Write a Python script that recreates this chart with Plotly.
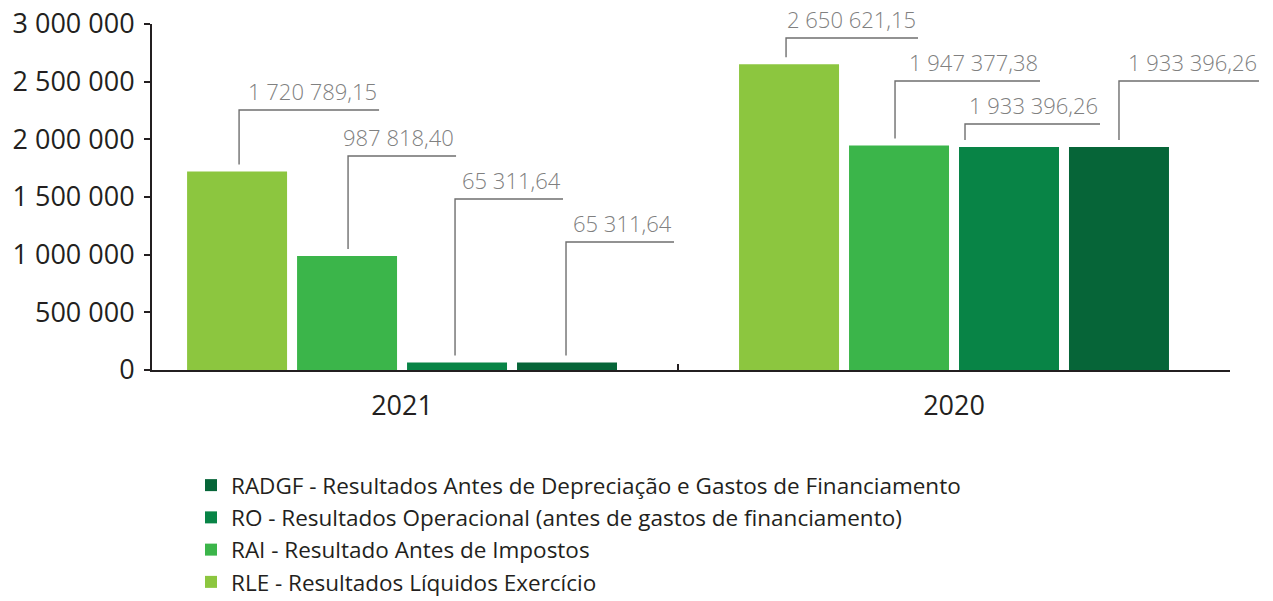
import plotly.graph_objects as go

# ---- data ---------------------------------------------------------------
years = ["2021", "2020"]
series_names = [
    "RLE - Resultados Líquidos Exercício",
    "RAI - Resultado Antes de Impostos",
    "RO - Resultados Operacional (antes de gastos de financiamento)",
    "RADGF - Resultados Antes de Depreciação e Gastos de Financiamento",
]
rle = [1720789.15, 2650621.15]
rai = [987818.40, 1947377.38]
ro = [65311.64, 1933396.26]
radgf = [65311.64, 1933396.26]
y_ticks = [0, 500000, 1000000, 1500000, 2000000, 2500000, 3000000]

series_values = [rle, rai, ro, radgf]
colors = ["#8cc63f", "#3bb54a", "#088446", "#066538"]

# ---- geometry -----------------------------------------------------------
W, H = 1273, 601
MARGIN = dict(l=152, r=43, t=24, b=231, pad=0)
PLOT_W = W - MARGIN["l"] - MARGIN["r"]
PLOT_H = H - MARGIN["t"] - MARGIN["b"]
X_RANGE = [-0.453, 1.5]
Y_RANGE = [0, 3000000]
BARGAP = 0.203
BARGROUPGAP = 0.0909

# leader styling per (year, series): label line height (px from page top),
# horizontal run (px) and shift of the elbow from the bar centre (px)
leader_layout = {
    (0, 0): (110, 140, 2),
    (0, 1): (156, 108, 1),
    (0, 2): (199, 108, -2),
    (0, 3): (242, 108, -1),
    (1, 0): (38, 132, -3),
    (1, 1): (81, 145, -4),
    (1, 2): (124, 135, -44),
    (1, 3): (81, 140, 0),
}
LEADER_GAP_PX = 7
LINE_COLOR = "#6f6f6f"
DARK = "#231f20"
FONT = "Open Sans"


def fmt_pt(v):
    """Portuguese number format: space thousands, comma decimals."""
    return f"{v:,.2f}".replace(",", " ").replace(".", ",")


def x_to_paper(x):
    return (x - X_RANGE[0]) / (X_RANGE[1] - X_RANGE[0])


def y_to_paper(y):
    return (y - Y_RANGE[0]) / (Y_RANGE[1] - Y_RANGE[0])


def px_x(px):
    return px / PLOT_W


def px_y_from_top(py):
    return 1 - (py - MARGIN["t"]) / PLOT_H


fig = go.Figure()
for name, vals, col in zip(series_names, series_values, colors):
    fig.add_trace(go.Bar(
        x=years, y=vals, name=name,
        marker=dict(color=col, line=dict(width=0)),
        hoverinfo="skip",
    ))

# elbow leaders with value labels
n = len(series_values)
slot = (1 - BARGAP) / n
shapes, annotations = [], []
for j, _ in enumerate(years):
    for i, vals in enumerate(series_values):
        level_px, run_px, shift_px = leader_layout[(j, i)]
        centre = j - (1 - BARGAP) / 2 + slot * (i + 0.5)
        xp = x_to_paper(centre) + px_x(shift_px)
        xp_end = xp + px_x(run_px)
        yp_bottom = y_to_paper(vals[j]) + LEADER_GAP_PX / PLOT_H
        yp_level = px_y_from_top(level_px)
        path = f"M {xp},{yp_bottom} L {xp},{yp_level} L {xp_end},{yp_level}"
        shapes.append(dict(type="path", path=path, xref="paper", yref="paper",
                           line=dict(color=LINE_COLOR, width=1.4)))
        annotations.append(dict(
            x=xp_end, y=yp_level, xref="paper", yref="paper",
            text=fmt_pt(vals[j]), showarrow=False,
            xanchor="right", yanchor="bottom", yshift=2,
            font=dict(family=FONT, size=22, color="#808080", weight=300),
        ))

fig.update_layout(
    template="none",
    width=W, height=H,
    margin=dict(MARGIN, autoexpand=False),
    paper_bgcolor="white", plot_bgcolor="white",
    separators=", ",
    barmode="group", bargap=BARGAP, bargroupgap=BARGROUPGAP,
    font=dict(family=FONT, color=DARK),
    shapes=shapes, annotations=annotations,
    showlegend=True,
    legend=dict(
        traceorder="reversed",
        xref="container", yref="container",
        x=191 / W, y=1 - 464 / H, xanchor="left", yanchor="top",
        font=dict(family=FONT, size=22.5, color=DARK),
        bgcolor="rgba(0,0,0,0)", borderwidth=0,
    ),
    xaxis=dict(
        type="category", range=X_RANGE, automargin=False,
        showline=True, linecolor=DARK, linewidth=2,
        ticks="inside", tickson="boundaries", ticklen=6, tickwidth=2,
        tickcolor=DARK, showgrid=False, zeroline=False,
        tickfont=dict(family=FONT, size=27, color=DARK, weight=500),
        ticklabelstandoff=11,
    ),
    yaxis=dict(
        range=Y_RANGE, tickvals=y_ticks, tickformat=",d", automargin=False,
        showline=True, linecolor=DARK, linewidth=2,
        ticks="outside", ticklen=6, tickwidth=2, tickcolor=DARK,
        showgrid=False, zeroline=False,
        tickfont=dict(family=FONT, size=27, color=DARK),
        ticklabelstandoff=4,
    ),
)

fig.write_html("out.html")
